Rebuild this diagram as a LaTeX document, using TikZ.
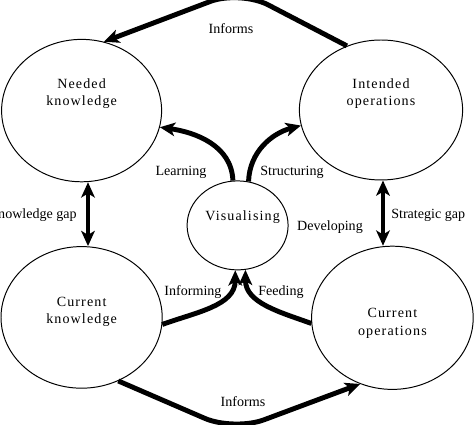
\documentclass[tikz,border=0pt]{standalone}
\usepackage{fontspec}
\setmainfont{Liberation Serif}
\usetikzlibrary{shapes.geometric,arrows.meta}

\begin{document}
\begin{tikzpicture}[
    font=\fontsize{10}{12.5}\selectfont,
    stage/.style={draw, ellipse, line width=0.7pt, inner sep=0pt},
    stagetext/.style={align=center, inner sep=0pt, font=\fontsize{10}{12.5}\selectfont\addfontfeature{LetterSpace=8}},
    tag/.style={inner sep=0pt},
    flow/.style={line width=3.5pt, -{Stealth[length=0.38cm, width=0.34cm, inset=0.1cm]}},
    gap/.style={line width=3.5pt, {Stealth[length=0.38cm, width=0.34cm, inset=0.1cm]}-{Stealth[length=0.38cm, width=0.34cm, inset=0.1cm]}}
  ]
    \useasboundingbox (0,0) rectangle (11.85,10.625);

    % Ellipsen
    \node[stage, minimum width=4.0cm, minimum height=3.56cm] (nk) at (2.04,7.86) {};
    \node[stage, minimum width=4.08cm, minimum height=3.5cm] (io) at (9.525,7.875) {};
    \node[stage, minimum width=4.03cm, minimum height=3.54cm] (ck) at (2.04,2.69) {};
    \node[stage, minimum width=4.04cm, minimum height=3.58cm] (co) at (9.81,2.68) {};
    \node[stage, minimum width=2.525cm, minimum height=2.225cm] (vis) at (5.94,4.99) {};

    % Texte in den Ellipsen
    \node[stagetext] (nktext) at ([yshift=0.425cm]nk.center) {Needed\\knowledge};
    \node[stagetext] (iotext) at ([yshift=0.41cm]io.center) {Intended\\operations};
    \node[stagetext] (cktext) at ([yshift=0.14cm]ck.center) {Current\\knowledge};
    \node[stagetext] (cotext) at ([yshift=-0.145cm]co.center) {Current\\operations};
    \node[stagetext] (vistext) at ([xshift=0.125cm, yshift=0.21cm]vis.center) {Visualising};

    % Knickpunkte
    \coordinate (topbend) at (6.0,10.87);
    \coordinate (bottombend) at (5.85,-0.15);

    % Pfeile aussen
    \draw[flow, rounded corners=0.8cm] (io.118) -- (topbend) -- (nk.72);
    \draw[flow, rounded corners=0.8cm] (ck.-60) -- (bottombend) -- (co.244);
    \draw[gap] ([xshift=0.16cm]nk.south) -- ([xshift=0.16cm]nk.south |- ck.north);
    \draw[gap] ([xshift=0.05cm]io.south) -- ([xshift=0.05cm]io.south |- co.north);

    % Pfeile zur Mitte
    \draw[flow] (vis.96) to[out=92, in=-8] (nk.-12);
    \draw[flow] (vis.76) to[out=88, in=195] (io.191);
    \draw[flow] (ck.-5) to[out=20, in=-90] (vis.-93);
    \draw[flow] (co.184) to[out=160, in=-90] (vis.-80);

    % Beschriftungen
    \node[tag] (informstop) at (5.775,9.9) {Informs};
    \node[tag] (informsbottom) at (6.075,0.575) {Informs};
    \node[tag] (learning) at (4.525,6.325) {Learning};
    \node[tag] (structuring) at (7.3,6.325) {Structuring};
    \node[tag, anchor=east] (kgap) at (1.925,5.25) {Knowledge gap};
    \node[tag, anchor=west] (sgap) at (9.775,5.25) {Strategic gap};
    \node[tag] (developing) at (8.25,4.95) {Developing};
    \node[tag] (informing) at (4.825,3.325) {Informing};
    \node[tag] (feeding) at (7.025,3.325) {Feeding};
\end{tikzpicture}
\end{document}
